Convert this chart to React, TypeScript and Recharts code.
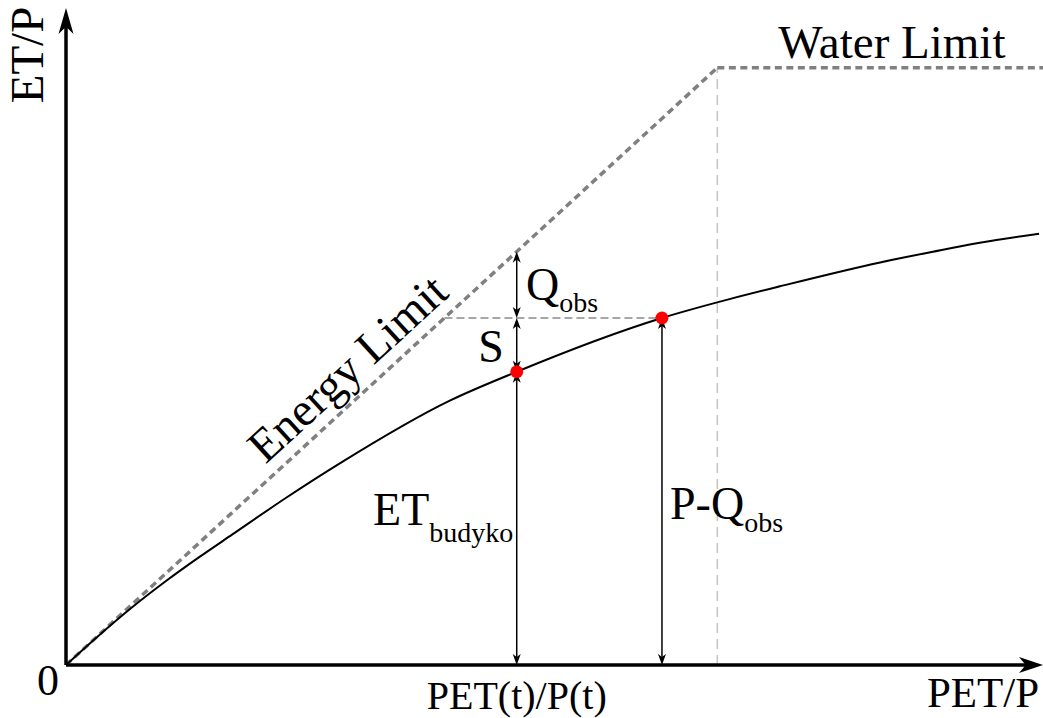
import { LineChart, Line, XAxis, YAxis, ReferenceLine, ReferenceDot } from 'recharts';

// Budyko curve (PET/P on x, ET/P on y)
const petRatio = [0, 0.05, 0.102, 0.154, 0.205, 0.256, 0.338, 0.421, 0.59, 0.692, 0.915, 1.02, 1.096, 1.25, 1.331, 1.403, 1.494];
const etRatio = [0, 0.049, 0.097, 0.141, 0.181, 0.219, 0.28, 0.338, 0.443, 0.491, 0.581, 0.613, 0.634, 0.674, 0.692, 0.707, 0.722];

// energy limit (ET = PET) and water limit (ET = P)
const energyPet = [0, 1];
const energyEt = [0, 1];
const waterPet = [1, 1.5];
const waterEt = [1, 1];

// the two marked points
const petT = 0.692;      // PET(t)/P(t)
const etBudyko = 0.491;  // ET_budyko
const petObs = 0.915;
const etObs = 0.581;     // P - Q_obs

const X_MAX = 1.5;
const Y_MAX = 1.1;

const FONT = '"Liberation Serif", "Times New Roman", serif';

const curveData = petRatio.map((x, i) => ({ x, y: etRatio[i] }));
const energyData = energyPet.map((x, i) => ({ x, y: energyEt[i] }));
const waterData = waterPet.map((x, i) => ({ x, y: waterEt[i] }));

const headPath = (tx: number, ty: number, fx: number, fy: number, len: number, half: number) => {
    const d = Math.hypot(tx - fx, ty - fy) || 1;
    const ux = (tx - fx) / d, uy = (ty - fy) / d;
    const nx = -uy, ny = ux;
    const bx = tx - ux * len, by = ty - uy * len;
    const mx = tx - ux * len * 0.72, my = ty - uy * len * 0.72;
    return `M${tx},${ty} L${bx + nx * half},${by + ny * half} L${mx},${my} L${bx - nx * half},${by - ny * half} Z`;
};

// line with arrowheads, fed with x1..y2 by ReferenceLine
const arrow = (opts: { start?: boolean; width?: number; len?: number; half?: number }) => (p: any) => {
    const { x1, y1, x2, y2 } = p;
    const { start = false, width = 1.5, len = 11, half = 4 } = opts;
    const d = Math.hypot(x2 - x1, y2 - y1) || 1;
    const ux = (x2 - x1) / d, uy = (y2 - y1) / d;
    const cut = len * 0.6;
    const sx = start ? x1 + ux * cut : x1, sy = start ? y1 + uy * cut : y1;
    return (
        <g>
            <line x1={sx} y1={sy} x2={x2 - ux * cut} y2={y2 - uy * cut} stroke="#000" strokeWidth={width} />
            <path d={headPath(x2, y2, x1, y1, len, half)} fill="#000" />
            {start && <path d={headPath(x1, y1, x2, y2, len, half)} fill="#000" />}
        </g>
    );
};

// text placed at a data point through ReferenceDot
const label = (main: string, opts: { size?: number; anchor?: string; rotate?: number; sub?: string; subDy?: number }) => (p: any) => {
    const { size = 46, anchor = 'start', rotate = 0, sub, subDy = 13 } = opts;
    return (
        <text
            x={p.cx}
            y={p.cy}
            fontFamily={FONT}
            fontSize={size}
            fill="#000"
            textAnchor={anchor}
            transform={rotate ? `rotate(${rotate}, ${p.cx}, ${p.cy})` : undefined}
        >
            {main}
            {sub && <tspan fontSize={28} dy={subDy}>{sub}</tspan>}
        </text>
    );
};

export default function App() {
    return (
        <div style={{ position: 'absolute', left: 0, top: 0, width: 1043, height: 718, background: '#fff' }}>
            <LineChart width={1043} height={718} margin={{ top: 8, right: 0, bottom: 53, left: 66 }}>
                <XAxis type="number" dataKey="x" domain={[0, X_MAX]} allowDataOverflow hide />
                <YAxis type="number" dataKey="y" domain={[0, Y_MAX]} allowDataOverflow hide />

                {/* guide lines */}
                <ReferenceLine segment={[{ x: 1, y: 0 }, { x: 1, y: 1 }]} stroke="#c4c4c4" strokeWidth={1.5} strokeDasharray="10 6" ifOverflow="visible" />
                <ReferenceLine segment={[{ x: etObs, y: etObs }, { x: petObs, y: etObs }]} stroke="#8a8a8a" strokeWidth={1.5} strokeDasharray="8 4" ifOverflow="visible" />

                <Line data={energyData} dataKey="y" type="linear" stroke="#808080" strokeWidth={3.5} strokeDasharray="7 4.5" dot={false} isAnimationActive={false} />
                <Line data={waterData} dataKey="y" type="linear" stroke="#808080" strokeWidth={3.5} strokeDasharray="7 4.5" dot={false} isAnimationActive={false} />
                <Line data={curveData} dataKey="y" type="monotone" stroke="#000" strokeWidth={2} dot={false} isAnimationActive={false} />

                {/* axes */}
                <ReferenceLine segment={[{ x: 0, y: 0 }, { x: 0, y: Y_MAX }]} ifOverflow="visible" shape={arrow({ width: 3.5, len: 26, half: 7.5 })} />
                <ReferenceLine segment={[{ x: 0, y: 0 }, { x: X_MAX, y: 0 }]} ifOverflow="visible" shape={arrow({ width: 3.5, len: 24, half: 8 })} />

                {/* double arrows */}
                <ReferenceLine segment={[{ x: petT, y: etObs }, { x: petT, y: petT }]} ifOverflow="visible" shape={arrow({ start: true })} />
                <ReferenceLine segment={[{ x: petT, y: etBudyko }, { x: petT, y: etObs }]} ifOverflow="visible" shape={arrow({ start: true })} />
                <ReferenceLine segment={[{ x: petT, y: 0 }, { x: petT, y: etBudyko }]} ifOverflow="visible" shape={arrow({ start: true })} />
                <ReferenceLine segment={[{ x: petObs, y: 0 }, { x: petObs, y: etObs }]} ifOverflow="visible" shape={arrow({ start: true })} />

                <ReferenceDot x={petT} y={etBudyko} r={6.5} fill="#ff0000" stroke="none" ifOverflow="visible" />
                <ReferenceDot x={petObs} y={etObs} r={6.5} fill="#ff0000" stroke="none" ifOverflow="visible" />

                {/* texts */}
                <ReferenceDot x={1.268} y={1.016} ifOverflow="visible" shape={label('Water Limit', { size: 47, anchor: 'middle' })} />
                <ReferenceDot x={-0.0353} y={1.0213} ifOverflow="visible" shape={label('ET/P', { size: 47, anchor: 'middle', rotate: -90 })} />
                <ReferenceDot x={-0.0276} y={-0.0502} ifOverflow="visible" shape={label('0', { size: 44, anchor: 'middle' })} />
                <ReferenceDot x={petT} y={-0.0737} ifOverflow="visible" shape={label('PET(t)/P(t)', { size: 40, anchor: 'middle' })} />
                <ReferenceDot x={1.408} y={-0.0705} ifOverflow="visible" shape={label('PET/P', { size: 43, anchor: 'middle' })} />
                <ReferenceDot x={0.4483} y={0.4771} ifOverflow="visible" shape={label('Energy Limit', { size: 47, anchor: 'middle', rotate: -42.5 })} />
                <ReferenceDot x={0.7063} y={0.6111} ifOverflow="visible" shape={label('Q', { sub: 'obs', subDy: 12 })} />
                <ReferenceDot x={0.6525} y={0.5073} ifOverflow="visible" shape={label('S', { anchor: 'middle' })} />
                <ReferenceDot x={0.4714} y={0.2344} ifOverflow="visible" shape={label('ET', { sub: 'budyko', subDy: 17 })} />
                <ReferenceDot x={0.9274} y={0.2444} ifOverflow="visible" shape={label('P-Q', { sub: 'obs', subDy: 13 })} />
            </LineChart>
        </div>
    );
}
